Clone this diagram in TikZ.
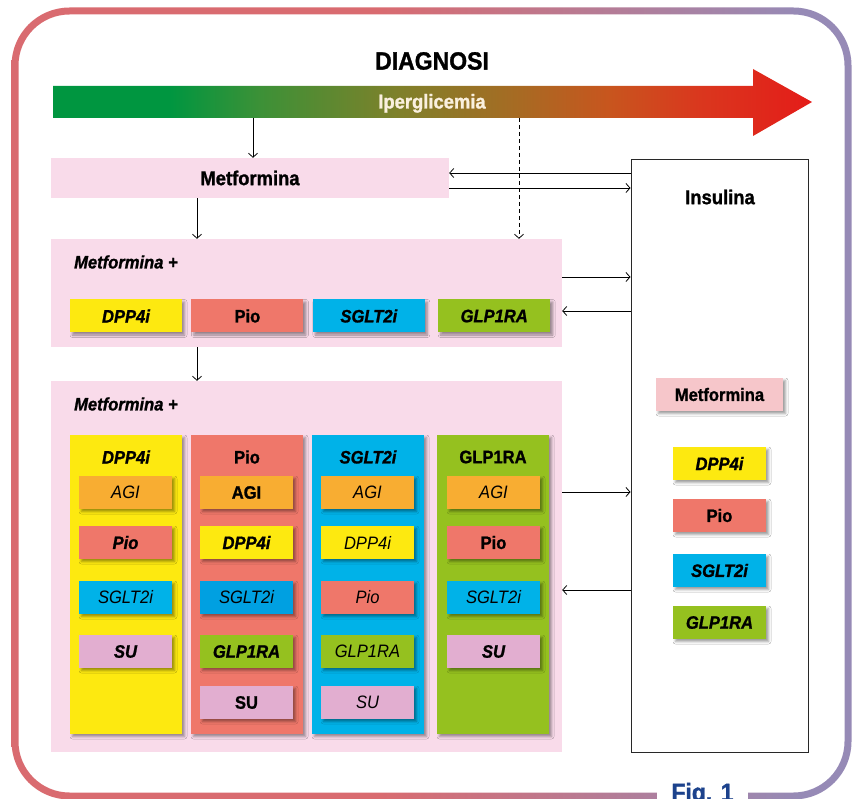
\documentclass[tikz,border=0pt]{standalone}
\usepackage{fontspec}
\setmainfont{Liberation Sans}[FakeStretch=0.92, BoldFeatures={FakeBold=1.2}, BoldItalicFeatures={FakeBold=1.2}]
\usepackage{xcolor}
\usepackage{tikz}
\usetikzlibrary{arrows.meta,positioning,calc,shadows.blur}
\definecolor{platepink}{RGB}{249,219,234}
\definecolor{dppyellow}{RGB}{253,233,16}
\definecolor{piosalmon}{RGB}{239,119,106}
\definecolor{sgltcyan}{RGB}{0,178,232}
\definecolor{sgltdeep}{RGB}{0,160,225}
\definecolor{glpgreen}{RGB}{149,193,31}
\definecolor{agiorange}{RGB}{248,173,50}
\definecolor{sulilac}{RGB}{226,174,208}
\definecolor{metfrose}{RGB}{246,198,202}
\definecolor{insulgray}{RGB}{40,40,40}
\definecolor{ipercream}{RGB}{250,240,222}
\definecolor{figblue}{RGB}{28,66,140}
\pgfdeclarehorizontalshading{hypergrad}{100bp}{color(0bp)=(rgb,255:red,0;green,150;blue,64);
  color(32.7bp)=(rgb,255:red,0;green,150;blue,64);
  color(38.6bp)=(rgb,255:red,60;green,145;blue,55);
  color(47.9bp)=(rgb,255:red,128;green,128;blue,42);
  color(55.8bp)=(rgb,255:red,168;green,106;blue,35);
  color(61.7bp)=(rgb,255:red,200;green,85;blue,30);
  color(67.6bp)=(rgb,255:red,218;green,55;blue,30);
  color(75bp)=(rgb,255:red,228;green,28;blue,25);
  color(100bp)=(rgb,255:red,228;green,28;blue,25)}
\pgfdeclarehorizontalshading{framegrad}{100bp}{color(0bp)=(rgb,255:red,217;green,107;blue,112);
  color(46.9bp)=(rgb,255:red,217;green,107;blue,112);
  color(71.9bp)=(rgb,255:red,150;green,138;blue,182);
  color(100bp)=(rgb,255:red,150;green,138;blue,182)}
\tikzset{
  plate/.style={rectangle, fill=platepink, inner sep=0pt},
  drug/.style={rectangle, minimum width=112pt, minimum height=33pt, inner sep=0pt,
    blur shadow={shadow xshift=2.5pt, shadow yshift=-2.5pt, shadow blur radius=2.5pt, shadow opacity=40}},
  subdrug/.style={drug, minimum width=93pt},
  column/.style={drug, minimum height=299pt},
  lbl/.style={font=\fontsize{18}{20}\selectfont\bfseries},
  lblit/.style={font=\fontsize{18}{20}\selectfont\bfseries\itshape},
  lblthin/.style={font=\fontsize{18}{20}\selectfont\itshape},
  headtxt/.style={font=\fontsize{20}{22}\selectfont\bfseries},
  parrow/.style={-{Straight Barb[length=4pt,width=9pt]}, line width=0.8pt}
}

\begin{document}
\begin{tikzpicture}[x=1pt, y=-1pt]
\useasboundingbox (0,0) rectangle (855,799);
% frame
\shade[shading=framegrad, even odd rule, rounded corners=58pt] (11.5,7.5) rectangle (851.5,799.5)
  [rounded corners=51pt] (18.5,14.5) rectangle (844.5,792.5);
\node[fill=white, minimum width=91pt, anchor=base, text=figblue, font=\fontsize{25}{28}\selectfont\bfseries] (fig) at (702.5,801) {Fig. 1};

% title and bar
\node[font=\fontsize{25}{28}\selectfont\bfseries] (diag) at (432,61) {DIAGNOSI};
\shade[shading=hypergrad] (53,86) -- (753,86) -- (753,69) -- (812,102) -- (753,136) -- (753,118) -- (53,118) -- cycle;
\node[headtxt, text=ipercream, anchor=base] (iper) at (432,108.5) {Iperglicemia};
\coordinate (barA) at (253,118);
\coordinate (barB) at (519,118);

% insulin
\node[draw=insulgray, line width=1pt, fill=white, minimum width=177pt, minimum height=592pt, inner sep=0pt] (insul) at (719.5,456) {};
\node[headtxt] (insultxt) at (720,197) {Insulina};
\node[drug, minimum width=127pt, fill=metfrose, lbl] (imetf) at (719.5,394.5) {Metformina};
\node[subdrug, fill=dppyellow, lblit] (idpp) at (719.5,463.5) {DPP4i};
\node[subdrug, fill=piosalmon, lbl] (ipio) at (719.5,515.5) {Pio};
\node[subdrug, fill=sgltcyan, lblit] (isglt) at (719.5,570.5) {SGLT2i};
\node[subdrug, fill=glpgreen, lblit] (iglp) at (719.5,622.5) {GLP1RA};

% step 1
\node[plate, minimum width=398pt, minimum height=40pt, headtxt] (metf) at (250,178) {Metformina};
\draw[parrow] (barA) -- (barA |- metf.north);
\draw[parrow] (insul.west |- 0,173) -- (metf.east |- 0,173);
\draw[parrow] (metf.east |- 0,188) -- (insul.west |- 0,188);

% step 2
\node[plate, minimum width=511pt, minimum height=108pt] (lev2) at (306.5,293) {};
\node[lblit, anchor=west, inner xsep=0pt] (plus2) at (74,262) {Metformina +};
\node[drug, fill=dppyellow, lblit] (r2dpp) at (126,316) {DPP4i};
\node[drug, fill=piosalmon, lbl, right=9pt of r2dpp] (r2pio) {Pio};
\node[drug, fill=sgltcyan, lblit, right=9pt of r2pio] (r2sglt) {SGLT2i};
\node[drug, fill=glpgreen, lblit, right=13pt of r2sglt] (r2glp) {GLP1RA};
\draw[parrow] (metf.south -| 197,0) -- (lev2.north -| 197,0);
\draw[parrow, dash pattern=on 4pt off 3pt] (barB) -- (barB |- lev2.north);
\draw[parrow] (lev2.east |- 0,277) -- (insul.west |- 0,277);
\draw[parrow] (insul.west |- 0,311) -- (lev2.east |- 0,311);

% step 3
\node[plate, minimum width=511pt, minimum height=371pt] (lev3) at (306.5,566.5) {};
\node[lblit, anchor=west, inner xsep=0pt] (plus3) at (74,404) {Metformina +};
\draw[parrow] (lev2.south -| 197,0) -- (lev3.north -| 197,0);
\draw[parrow] (lev3.east |- 0,492) -- (insul.west |- 0,492);
\draw[parrow] (insul.west |- 0,590) -- (lev3.east |- 0,590);

\node[column, fill=dppyellow] (colA) at (126,584.5) {};
\node[column, fill=piosalmon] (colB) at (247,584.5) {};
\node[column, fill=sgltcyan] (colC) at (368,584.5) {};
\node[column, fill=glpgreen] (colD) at (493,584.5) {};
\node[lblit] (hA) at (126,457) {DPP4i};
\node[lbl] (hB) at (247,457) {Pio};
\node[lblit] (hC) at (368,457) {SGLT2i};
\node[lbl] (hD) at (493,457) {GLP1RA};

% column A
\node[subdrug, fill=agiorange, lblthin] (a1) at (125.5,492.5) {AGI};
\node[subdrug, fill=piosalmon, lblit] (a2) at (125.5,542.5) {Pio};
\node[subdrug, fill=sgltcyan, lblthin] (a3) at (125.5,597.5) {SGLT2i};
\node[subdrug, fill=sulilac, lblit] (a4) at (125.5,651.5) {SU};
% column B
\node[subdrug, fill=agiorange, lbl] (b1) at (246.5,492.5) {AGI};
\node[subdrug, fill=dppyellow, lblit] (b2) at (246.5,542.5) {DPP4i};
\node[subdrug, fill=sgltdeep, lblthin] (b3) at (246.5,597.5) {SGLT2i};
\node[subdrug, fill=glpgreen, lblit] (b4) at (246.5,651.5) {GLP1RA};
\node[subdrug, fill=sulilac, lbl] (b5) at (246.5,702.5) {SU};
% column C
\node[subdrug, fill=agiorange, lblthin] (c1) at (367.5,492.5) {AGI};
\node[subdrug, fill=dppyellow, lblthin] (c2) at (367.5,542.5) {DPP4i};
\node[subdrug, fill=piosalmon, lblthin] (c3) at (367.5,597.5) {Pio};
\node[subdrug, fill=glpgreen, lblthin] (c4) at (367.5,651.5) {GLP1RA};
\node[subdrug, fill=sulilac, lblthin] (c5) at (367.5,702.5) {SU};
% column D
\node[subdrug, fill=agiorange, lblthin] (d1) at (493.5,492.5) {AGI};
\node[subdrug, fill=piosalmon, lbl] (d2) at (493.5,542.5) {Pio};
\node[subdrug, fill=sgltcyan, lblthin] (d3) at (493.5,597.5) {SGLT2i};
\node[subdrug, fill=sulilac, lblit] (d4) at (493.5,651.5) {SU};
\end{tikzpicture}
\end{document}
